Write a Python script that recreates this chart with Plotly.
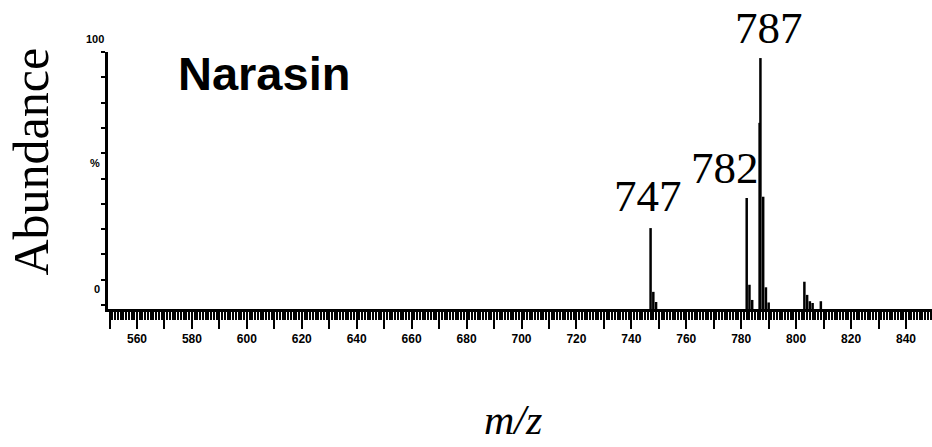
import plotly.graph_objects as go

# ---- data ----
peak_mz = [747, 748, 749, 782, 783, 784, 786.7, 787, 788, 789, 790,
           803, 804, 805, 806, 809]
peak_abund = [30.4, 5.2, 1.2, 42.3, 8.0, 2.0, 72.0, 97.6, 42.8, 7.0, 1.0,
              9.2, 4.0, 1.5, 0.8, 1.5]
label_mz = ["747", "782", "787"]
x_tick_vals = list(range(550, 850, 10))
x_tick_text = [str(v) if v % 20 == 0 else "" for v in x_tick_vals]
y_tick_vals = list(range(0, 101, 10))

X_RANGE = [549.44, 849.47]
Y_RANGE = [-1.58, 100.0]

# ---- geometry helpers (pixel -> paper) ----
W, H = 932, 447
L, R, T, B = 108, 0, 52, 447 - 309
PW, PH = W - L - R, H - T - B


def px(x):
    return (x - L) / PW


def py(y):
    return (H - B - y) / PH


# stick spectrum
xs, ys = [], []
for m, a in zip(peak_mz, peak_abund):
    xs += [m, m, None]
    ys += [Y_RANGE[0], a, None]

fig = go.Figure()
fig.add_trace(go.Scatter(x=xs, y=ys, mode="lines",
                         line=dict(color="black", width=2.5),
                         hoverinfo="skip", showlegend=False))

serif = "Liberation Serif"
sans = "Liberation Sans"

ann = []
ann.append(dict(text="<b>Narasin</b>", x=px(176), y=py(73), xanchor="left", yanchor="middle",
                font=dict(family=sans, size=47, color="black")))
ann.append(dict(text="Abundance", x=px(30), y=py(161.5), xanchor="center", yanchor="middle",
                textangle=-90, font=dict(family=serif, size=50, color="black")))
ann.append(dict(text="<i>m/z</i>", x=px(513), y=py(420), xanchor="center", yanchor="middle",
                font=dict(family=serif, size=42, color="black")))
for txt, cx, cy in zip(label_mz, [648, 724.5, 769], [196, 168, 28]):
    ann.append(dict(text=txt, x=px(cx), y=py(cy), xanchor="center", yanchor="middle",
                    font=dict(family=serif, size=45, color="black")))
for txt, cx, cy in zip(["100", "%", "0"], [95, 95, 97], [39, 163, 289]):
    ann.append(dict(text=txt, x=px(cx), y=py(cy), xanchor="center", yanchor="middle",
                    font=dict(family=sans, size=11, color="black", weight="bold")))
for a in ann:
    a.update(xref="paper", yref="paper", showarrow=False)

fig.update_layout(
    width=W, height=H,
    margin=dict(l=L, r=R, t=T, b=B, pad=0),
    paper_bgcolor="white", plot_bgcolor="white",
    annotations=ann,
    xaxis=dict(range=X_RANGE, showgrid=False, zeroline=False,
               showline=True, linecolor="black", linewidth=3,
               ticks="outside", ticklen=17, tickwidth=2, tickcolor="black",
               tickmode="array", tickvals=x_tick_vals, ticktext=x_tick_text,
               tickfont=dict(family=sans, size=12, color="black", weight="bold"),
               minor=dict(tickmode="linear", tick0=0, dtick=1, ticks="outside",
                          ticklen=8, tickwidth=1.5, tickcolor="black", showgrid=False)),
    yaxis=dict(range=Y_RANGE, showgrid=False, zeroline=False,
               showline=True, linecolor="black", linewidth=3,
               ticks="outside", ticklen=4, tickwidth=1.5, tickcolor="black",
               tickmode="array", tickvals=y_tick_vals, showticklabels=False),
)

fig.write_html("out.html")
